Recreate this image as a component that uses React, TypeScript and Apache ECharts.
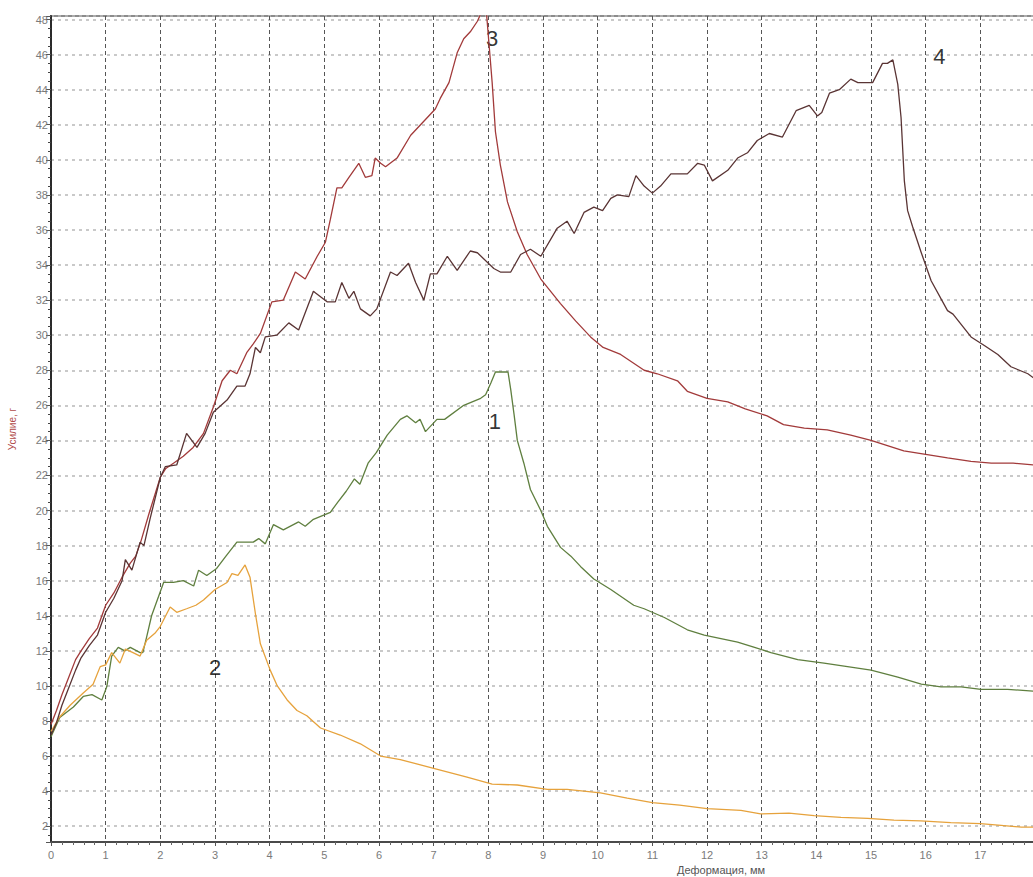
import React, { useEffect, useRef } from "react";
import * as echarts from "echarts";

// ---- data ----
const xTickLabels = ["0", "1", "2", "3", "4", "5", "6", "7", "8", "9", "10", "11", "12", "13", "14", "15", "16", "17"];
const yTickLabels = ["2", "4", "6", "8", "10", "12", "14", "16", "18", "20", "22", "24", "26", "28", "30", "32", "34", "36", "38", "40", "42", "44", "46", "48"];

const xAxisName = "Деформация, мм";
const yAxisName = "Усилие, г";

// curve 1 (green)
const curve1: [number, number][] = [
  [0, 7.1], [0.16, 8.2], [0.41, 8.8], [0.59, 9.4], [0.75, 9.5], [0.93, 9.2], [1.02, 9.95], [1.11, 11.7],
  [1.23, 12.2], [1.35, 12.0], [1.45, 12.2], [1.63, 11.9], [1.68, 11.9], [1.75, 12.8], [1.84, 14.0], [2.06, 15.9],
  [2.24, 15.9], [2.42, 16.0], [2.61, 15.7], [2.7, 16.6], [2.85, 16.3], [3.03, 16.7], [3.2, 17.4], [3.4, 18.2],
  [3.7, 18.2], [3.8, 18.4], [3.92, 18.1], [4.07, 19.2], [4.25, 18.9], [4.53, 19.35], [4.65, 19.1], [4.8, 19.5],
  [5.11, 19.9], [5.25, 20.5], [5.4, 21.1], [5.55, 21.8], [5.65, 21.5], [5.8, 22.7], [5.95, 23.3], [6.15, 24.3],
  [6.39, 25.2], [6.51, 25.4], [6.67, 25.0], [6.75, 25.2], [6.85, 24.5], [7.06, 25.2], [7.2, 25.2], [7.55, 26.0],
  [7.86, 26.4], [7.95, 26.6], [8.05, 27.3], [8.13, 27.9], [8.36, 27.9], [8.41, 26.9], [8.47, 25.5], [8.53, 24.0],
  [8.65, 22.7], [8.77, 21.2], [8.96, 20.0], [9.08, 19.1], [9.32, 17.9], [9.51, 17.4], [9.69, 16.8], [9.93, 16.1],
  [10.24, 15.5], [10.66, 14.6], [10.85, 14.4], [11.22, 13.9], [11.64, 13.2], [11.95, 12.9], [12.56, 12.5], [12.87, 12.2],
  [13.17, 11.9], [13.66, 11.5], [14.14, 11.3], [14.57, 11.1], [15.0, 10.9], [15.49, 10.5], [15.92, 10.1], [16.28, 9.95],
  [16.65, 9.95], [17.01, 9.8], [17.5, 9.8], [18.0, 9.7],
];

// curve 2 (orange)
const curve2: [number, number][] = [
  [0, 7.4], [0.15, 8.2], [0.35, 8.9], [0.59, 9.6], [0.77, 10.1], [0.9, 11.1], [1.0, 11.2], [1.11, 11.9],
  [1.26, 11.3], [1.36, 12.1], [1.5, 11.9], [1.63, 11.7], [1.75, 12.6], [1.9, 13.0], [2.0, 13.4], [2.18, 14.5],
  [2.3, 14.2], [2.48, 14.4], [2.65, 14.6], [2.79, 14.9], [3.0, 15.5], [3.22, 15.9], [3.31, 16.4], [3.42, 16.3],
  [3.55, 16.9], [3.64, 16.2], [3.74, 14.1], [3.83, 12.4], [4.01, 10.9], [4.14, 10.0], [4.32, 9.2], [4.5, 8.6],
  [4.68, 8.3], [4.93, 7.6], [5.29, 7.2], [5.66, 6.7], [6.03, 6.0], [6.39, 5.8], [7.0, 5.3], [7.61, 4.8],
  [8.07, 4.4], [8.53, 4.35], [9.08, 4.1], [9.44, 4.1], [10.05, 3.9], [10.54, 3.6], [11.0, 3.35], [11.5, 3.2],
  [12.0, 3.0], [12.62, 2.9], [12.98, 2.7], [13.5, 2.75], [13.96, 2.6], [14.45, 2.5], [14.94, 2.45], [15.42, 2.35],
  [15.91, 2.3], [16.46, 2.2], [17.0, 2.15], [17.38, 2.05], [17.75, 1.95], [18.0, 1.95],
];

// curve 3 (red)
const curve3: [number, number][] = [
  [0, 7.8], [0.1, 8.6], [0.2, 9.5], [0.3, 10.3], [0.45, 11.5], [0.55, 12.0], [0.7, 12.7], [0.85, 13.3],
  [1.0, 14.6], [1.15, 15.3], [1.3, 16.2], [1.45, 17.0], [1.55, 17.4], [1.65, 18.3], [1.8, 19.9], [2.0, 21.9],
  [2.1, 22.4], [2.24, 22.7], [2.42, 23.1], [2.6, 23.6], [2.79, 24.4], [2.97, 25.9], [3.13, 27.4], [3.28, 28.0],
  [3.4, 27.8], [3.58, 29.0], [3.7, 29.5], [3.83, 30.1], [4.04, 31.9], [4.25, 32.0], [4.47, 33.6], [4.56, 33.4],
  [4.65, 33.2], [4.87, 34.5], [5.02, 35.3], [5.11, 36.6], [5.23, 38.4], [5.32, 38.4], [5.45, 39.0], [5.63, 39.8],
  [5.75, 39.0], [5.87, 39.1], [5.93, 40.1], [6.03, 39.8], [6.12, 39.6], [6.33, 40.1], [6.58, 41.4], [6.82, 42.2],
  [7.03, 42.9], [7.12, 43.5], [7.28, 44.4], [7.43, 46.1], [7.55, 46.9], [7.67, 47.3], [7.8, 47.9], [7.9, 48.6],
  [7.96, 48.6], [8.01, 46.7], [8.07, 44.4], [8.13, 41.6], [8.22, 39.7], [8.35, 37.6], [8.53, 35.9], [8.71, 34.6],
  [8.96, 33.2], [9.32, 31.8], [9.6, 30.8], [9.87, 29.9], [10.1, 29.3], [10.42, 28.9], [10.85, 28.0], [11.09, 27.8],
  [11.46, 27.4], [11.64, 26.8], [12.0, 26.4], [12.38, 26.2], [12.7, 25.8], [13.1, 25.4], [13.4, 24.9], [13.78, 24.7],
  [14.2, 24.6], [14.63, 24.3], [15.0, 24.0], [15.3, 23.7], [15.6, 23.4], [16.0, 23.2], [16.4, 23.0], [16.83, 22.8],
  [17.2, 22.7], [17.6, 22.7], [18.0, 22.6],
];

// curve 4 (dark brown)
const curve4: [number, number][] = [
  [0, 7.2], [0.1, 7.9], [0.2, 8.9], [0.3, 9.7], [0.45, 10.9], [0.55, 11.6], [0.7, 12.3], [0.85, 12.9],
  [1.0, 14.2], [1.15, 15.0], [1.3, 16.0], [1.36, 17.2], [1.48, 16.6], [1.63, 18.2], [1.7, 18.0], [1.81, 19.5],
  [2.0, 21.9], [2.09, 22.5], [2.3, 22.6], [2.48, 24.4], [2.67, 23.6], [2.82, 24.4], [2.97, 25.6], [3.22, 26.3],
  [3.4, 27.1], [3.55, 27.1], [3.64, 27.8], [3.74, 29.3], [3.83, 29.0], [3.92, 29.9], [4.13, 30.0], [4.35, 30.7],
  [4.53, 30.3], [4.8, 32.5], [4.84, 32.4], [5.05, 31.9], [5.2, 31.9], [5.32, 33.0], [5.45, 32.1], [5.54, 32.5],
  [5.66, 31.5], [5.84, 31.1], [5.96, 31.5], [6.21, 33.6], [6.33, 33.4], [6.54, 34.1], [6.67, 33.0], [6.82, 32.0],
  [6.94, 33.5], [7.06, 33.5], [7.25, 34.5], [7.43, 33.7], [7.67, 34.8], [7.8, 34.7], [8.1, 33.8], [8.22, 33.6],
  [8.41, 33.6], [8.59, 34.6], [8.77, 34.9], [8.96, 34.5], [9.26, 36.1], [9.44, 36.5], [9.57, 35.8], [9.75, 37.0],
  [9.93, 37.3], [10.09, 37.1], [10.24, 37.8], [10.36, 38.0], [10.57, 37.9], [10.7, 39.1], [10.85, 38.5], [11.0, 38.1],
  [11.15, 38.5], [11.34, 39.2], [11.64, 39.2], [11.83, 39.8], [11.95, 39.7], [12.1, 38.8], [12.38, 39.4], [12.56, 40.1],
  [12.74, 40.4], [12.92, 41.1], [13.14, 41.5], [13.38, 41.3], [13.53, 42.2], [13.63, 42.8], [13.87, 43.1], [14.02, 42.5],
  [14.1, 42.7], [14.24, 43.8], [14.42, 44.0], [14.63, 44.6], [14.76, 44.4], [15.03, 44.4], [15.21, 45.5], [15.3, 45.5],
  [15.4, 45.7], [15.49, 44.3], [15.55, 42.4], [15.61, 38.8], [15.67, 37.1], [15.76, 36.2], [15.92, 34.7], [16.1, 33.1],
  [16.4, 31.4], [16.5, 31.2], [16.83, 29.9], [17.08, 29.4], [17.32, 28.9], [17.56, 28.2], [17.87, 27.8], [18.0, 27.5],
];

// curve number labels: [x, y, text]
const curveLabels: [number, number, string][] = [
  [8.12, 25.06, "1"],
  [3.0, 11.06, "2"],
  [8.07, 46.92, "3"],
  [16.25, 45.87, "4"],
];

const curveColors = ["#5f7f3f", "#e6a23c", "#a23a3a", "#5a3434"];

const FONT = '"Liberation Sans", Arial, sans-serif';

export default function App() {
  const ref = useRef<HTMLDivElement>(null);

  useEffect(() => {
    if (!ref.current) return;
    const chart = echarts.init(ref.current, undefined, { renderer: "svg" });
    const curves = [curve1, curve2, curve3, curve4];
    chart.setOption({
      animation: false,
      backgroundColor: "#ffffff",
      textStyle: { fontFamily: FONT },
      grid: {
        left: 51,
        top: 16,
        right: -2,
        bottom: 35,
        outerBoundsMode: "none",
        containLabel: false,
        show: true,
        borderColor: "#8c8c8c",
        borderWidth: 2,
      },
      xAxis: {
        type: "value",
        min: 0,
        max: 18,
        interval: 1,
        axisLine: { show: true, lineStyle: { color: "#4a4a4a", width: 2 } },
        axisTick: { show: true, length: 4, lineStyle: { color: "#555" } },
        minorTick: { show: true, splitNumber: 5, length: 3, lineStyle: { color: "#666" } },
        axisLabel: {
          color: "#7a7a7a",
          fontSize: 11,
          fontFamily: FONT,
          margin: 7,
          showMaxLabel: false,
          formatter: (v: number) => xTickLabels[Math.round(v)] ?? "",
        },
        splitLine: { show: true, lineStyle: { color: "#555", type: [4, 3], width: 1 } },
      },
      yAxis: {
        type: "value",
        min: 1.1,
        max: 48.2,
        splitNumber: 24,
        minInterval: 2,
        maxInterval: 2,
        name: yAxisName,
        nameLocation: "middle",
        nameGap: 34,
        nameRotate: 90,
        nameTextStyle: { color: "#b04a4a", fontSize: 10, fontFamily: FONT },
        axisLine: { show: true, lineStyle: { color: "#2a2a2a", width: 2 } },
        axisTick: { show: true, length: 5, lineStyle: { color: "#555" } },
        minorTick: { show: true, splitNumber: 4, length: 3, lineStyle: { color: "#444" } },
        axisLabel: {
          color: "#7a7a7a",
          fontSize: 11,
          fontFamily: FONT,
          margin: 3,
          showMinLabel: false,
          showMaxLabel: false,
          formatter: (v: number) => {
            const i = Math.round(v / 2) - 1;
            return Math.abs(v - Math.round(v)) < 1e-6 ? yTickLabels[i] ?? "" : "";
          },
        },
        splitLine: { show: true, lineStyle: { color: "#b8b8b8", type: [3, 4], width: 1.5 } },
      },
      graphic: [
        {
          type: "text",
          left: 677,
          top: 864,
          style: { text: xAxisName, fill: "#555", font: `11px ${FONT}` },
        },
      ],
      series: [
        ...curves.map((d, i) => ({
          type: "line",
          name: String(i + 1),
          data: d,
          showSymbol: false,
          symbol: "none",
          clip: true,
          lineStyle: { color: curveColors[i], width: 1.3 },
          itemStyle: { color: curveColors[i] },
        })),
        {
          type: "scatter",
          data: curveLabels,
          symbolSize: 1,
          itemStyle: { color: "rgba(0,0,0,0)" },
          label: {
            show: true,
            position: "inside",
            formatter: (p: any) => p.value[2],
            color: "#000",
            fontSize: 22,
            fontFamily: FONT,
          },
        },
      ],
    });
    return () => chart.dispose();
  }, []);

  return (
    <div
      ref={ref}
      style={{ position: "absolute", left: 0, top: 0, width: 1033, height: 877, background: "#fff" }}
    />
  );
}
